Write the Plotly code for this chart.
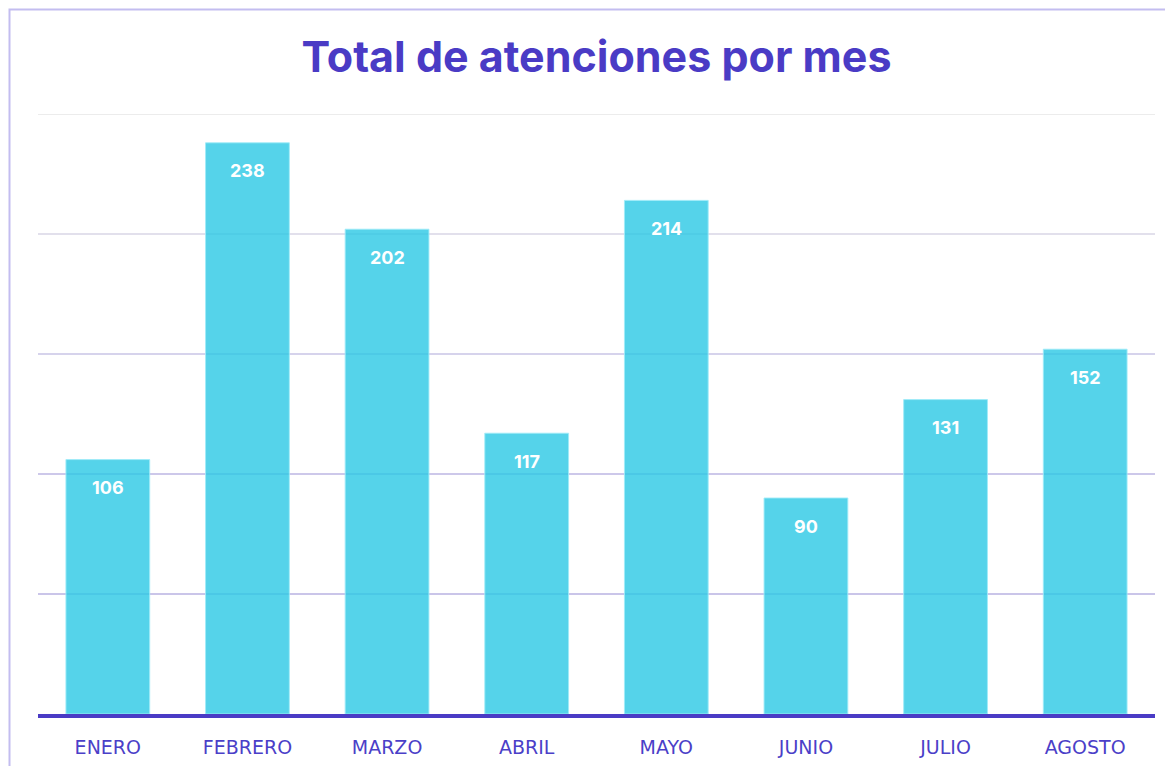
import plotly.graph_objects as go

months = ["ENERO", "FEBRERO", "MARZO", "ABRIL", "MAYO", "JUNIO", "JULIO", "AGOSTO"]
values = [106, 238, 202, 117, 214, 90, 131, 152]
grid_values = [50, 100, 150, 200, 250]
grid_colors = ["#b9b2e2", "#bdb6e3", "#c9c4e6", "#d8d6e6", "#e6e6e6"]

W, H = 1157, 758
ML, MR, MT, MB = 30, 10, 106, 52
PW, PH = W - ML - MR, H - MT - MB

fig = go.Figure()
fig.add_trace(go.Bar(
    x=months, y=values,
    marker=dict(color="rgba(43,200,229,0.8)", line=dict(color="rgba(160,235,248,0.9)", width=1)),
    hoverinfo="x+y",
))

annotations = []
for m, v in zip(months, values):
    annotations.append(dict(
        x=m, y=v, xref="x", yref="y", text=str(v), showarrow=False,
        yshift=-28, yanchor="middle",
        font=dict(family="Inter", size=18, color="white", weight="bold"),
    ))

shapes = []
for gv, gc in zip(grid_values, grid_colors):
    shapes.append(dict(type="line", xref="paper", yref="y", x0=0, x1=1, y0=gv, y1=gv,
                       line=dict(color=gc, width=1.5), layer="below"))
# outer border
shapes.append(dict(type="rect", xref="paper", yref="paper",
                   x0=(1.5 - ML) / PW, x1=(W + 20 - ML) / PW,
                   y0=-(MB + 20) / PH, y1=1 + (MT - 1.5) / PH,
                   line=dict(color="#c3bdf0", width=2), layer="below"))

fig.update_layout(
    width=W, height=H,
    margin=dict(l=ML, r=MR, t=MT, b=MB, autoexpand=False),
    paper_bgcolor="white", plot_bgcolor="white",
    title=dict(text="Total de atenciones por mes", x=0.5, xref="paper", xanchor="center",
               y=1 - 49 / H, yanchor="middle",
               font=dict(family="Inter", size=43, color="#4a3bc5", weight="bold")),
    bargap=0.4,
    showlegend=False,
    xaxis=dict(showgrid=False, showline=True, linecolor="#4a3bc5", linewidth=4,
               ticks="", ticklabelstandoff=13, automargin=False,
               tickfont=dict(family="DejaVu Sans", size=19, color="#4b3fc8")),
    yaxis=dict(range=[0, 250], showgrid=False, showticklabels=False, zeroline=False,
               fixedrange=True, automargin=False),
    annotations=annotations,
    shapes=shapes,
)

fig.write_html("out.html")
